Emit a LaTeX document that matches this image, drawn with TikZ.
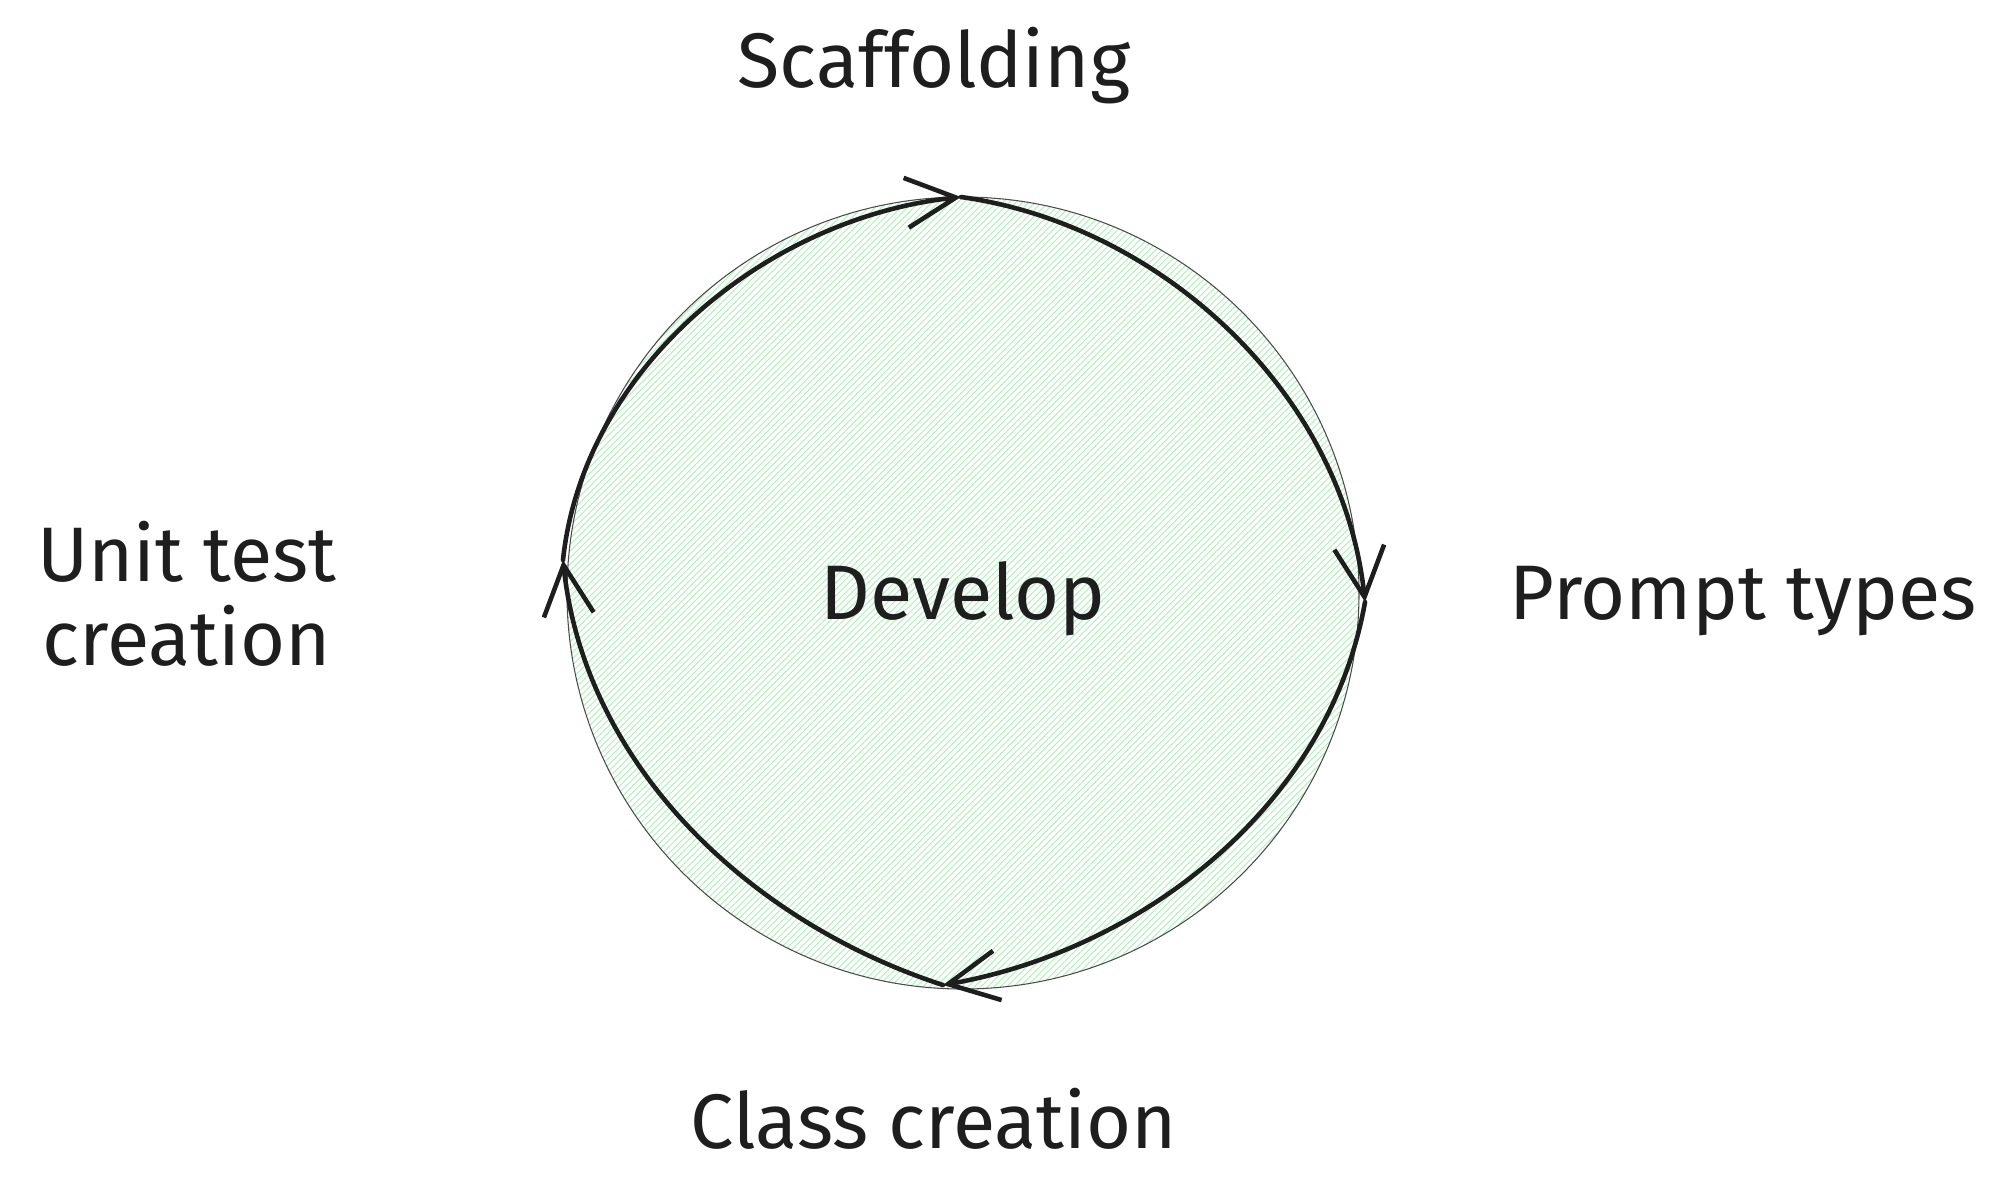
\documentclass[tikz,border=0pt]{standalone}
\usepackage{fontspec}
\setmainfont{Fira Sans}
\usetikzlibrary{arrows.meta, patterns.meta}
\definecolor{ink}{HTML}{1E1E1E}
\definecolor{mint}{HTML}{B2F2BB}
\tikzset{
    label text/.style={text=ink, font=\fontsize{22}{25}\selectfont, inner sep=0pt},
    cycle arrow/.style={ink, line width=1.3pt, line cap=round, looseness=0.92,
        -{Straight Barb[length=5mm, width=5mm, line width=1.3pt]}},
}

\begin{document}
\begin{tikzpicture}
    \useasboundingbox (0,0) rectangle (19.90,-11.86);
    % Hatched circle
    \node[circle, minimum size=7.92cm, draw=ink!80, line width=0.3pt,
        pattern={Lines[angle=45, distance=1.3pt, line width=0.3pt]},
        pattern color=mint] (dev) at (9.63,-5.93) {};
    \node[label text, anchor=base] (develop) at (9.63,-6.19) {Develop};
    % Stage labels
    \node[label text, anchor=base] (scaffold) at (9.34,-0.87) {Scaffolding};
    \node[label text, anchor=base] (prompt) at (17.43,-6.19) {Prompt types};
    \node[label text, anchor=base] (class) at (9.34,-11.48) {Class creation};
    \node[label text, align=center] (unit) at (1.87,-5.94) {Unit test\\[-1pt]creation};
    % Points on the circle
    \coordinate (ctop) at (9.61,-1.97);
    \coordinate (cright) at (13.65,-6.02);
    \coordinate (cbottom) at (9.43,-9.85);
    \coordinate (cleft) at (5.63,-5.60);
    % Cycle arrows
    \draw[cycle arrow] (cleft) to[out=84, in=186] (ctop);
    \draw[cycle arrow] (ctop) to[out=-8, in=96] (cright);
    \draw[cycle arrow] (cright) to[out=-100, in=10] (cbottom);
    \draw[cycle arrow] (cbottom) to[out=162, in=-84] (cleft);
\end{tikzpicture}
\end{document}
